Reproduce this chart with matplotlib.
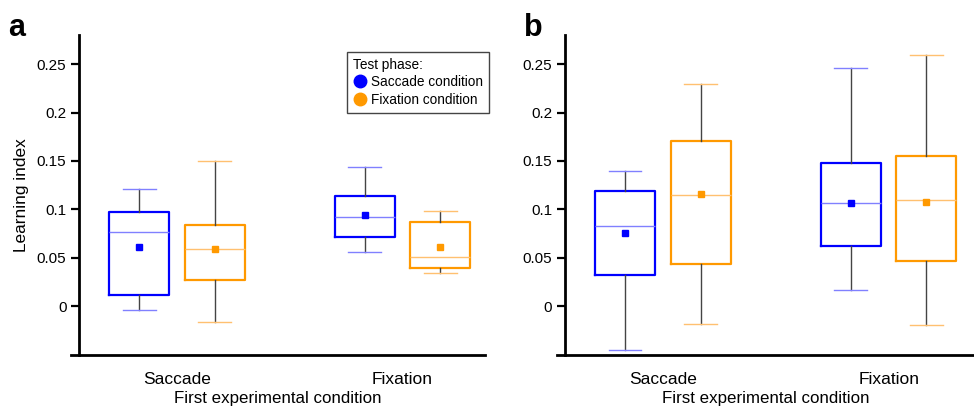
import numpy as np
import matplotlib.pyplot as plt
from matplotlib.ticker import FormatStrFormatter
from matplotlib.lines import Line2D

plt.rcParams['font.family'] = ['Liberation Sans', 'DejaVu Sans']

categories = ['Saccade', 'Fixation']
series = ['Saccade condition', 'Fixation condition']

# box order: Saccade/blue, Saccade/orange, Fixation/blue, Fixation/orange
a_whislo = [-0.004, -0.0165, 0.0563, 0.034]
a_q1 = [0.0117, 0.0268, 0.0711, 0.0395]
a_med = [0.077, 0.0588, 0.0924, 0.0505]
a_q3 = [0.0975, 0.0838, 0.114, 0.0873]
a_whishi = [0.1216, 0.150, 0.1443, 0.0986]
a_mean = [0.0608, 0.059, 0.0945, 0.0608]

b_whislo = [-0.0447, -0.0179, 0.0165, -0.019]
b_q1 = [0.0323, 0.0436, 0.0622, 0.047]
b_med = [0.0831, 0.1147, 0.1065, 0.1093]
b_q3 = [0.1189, 0.1704, 0.148, 0.155]
b_whishi = [0.1398, 0.2299, 0.2464, 0.2598]
b_mean = [0.0756, 0.116, 0.1065, 0.1072]

cols = ['#0000ff', '#ff9900']
light = ['#8080ff', '#ffc070']

fig = plt.figure(figsize=(9.74, 4.08), dpi=100)
axa = fig.add_axes([71/974, 1-355.3/408, (485-71)/974, (355.3-35)/408])
axb = fig.add_axes([556.7/974, 1-355.3/408, (974-556.7)/974, (355.3-35)/408])


def draw(ax, lo, q1, med, q3, hi, mean, xmax):
    g = np.arange(len(categories)) + 1
    off = 0.1675
    for s in range(2):
        idx = [2*i + s for i in range(len(categories))]
        stats = []
        for i in idx:
            stats.append(dict(whislo=lo[i], q1=q1[i], med=med[i], q3=q3[i],
                              whishi=hi[i], mean=mean[i], fliers=[]))
        pos = g + (off if s else -off)
        ax.bxp(stats, positions=pos, widths=0.266, capwidths=0.146,
               showmeans=True, manage_ticks=False,
               boxprops=dict(color=cols[s], linewidth=1.6),
               medianprops=dict(color=light[s], linewidth=1.0),
               whiskerprops=dict(color='#444444', linewidth=1.0),
               capprops=dict(color=light[s], linewidth=1.0),
               meanprops=dict(marker='s', markerfacecolor=cols[s],
                              markeredgecolor=cols[s], markersize=5))
    ax.set_xlim(0.53, xmax)
    ax.set_ylim(-0.0505, 0.28)
    ax.set_xticks(g)
    ax.set_xticklabels(categories, fontsize=12.5)
    ax.tick_params(axis='x', length=0, pad=12)
    ax.set_yticks([0, 0.05, 0.1, 0.15, 0.2, 0.25])
    ax.yaxis.set_major_formatter(FormatStrFormatter('%g'))
    ax.tick_params(axis='y', length=6, width=1.6, labelsize=11, pad=3)
    for sp in ['top', 'right']:
        ax.spines[sp].set_visible(False)
    ax.spines['left'].set_position(('axes', 0.0193))
    ax.spines['left'].set_linewidth(2)
    ax.spines['bottom'].set_linewidth(2)
    ax.set_xlabel('First experimental condition', fontsize=12.2, labelpad=3)
    ax.patch.set_alpha(0)


draw(axa, a_whislo, a_q1, a_med, a_q3, a_whishi, a_mean, 2.366)
draw(axb, b_whislo, b_q1, b_med, b_q3, b_whishi, b_mean, 2.378)
axa.set_ylabel('Learning index', fontsize=12.4, labelpad=6)

fig.text(8/974, 1-36/408, 'a', fontsize=22, fontweight='bold')
fig.text(524/974, 1-36/408, 'b', fontsize=22, fontweight='bold')

handles = [Line2D([], [], marker='o', linestyle='none', color=c, markersize=9)
           for c in cols]
leg = axa.legend(handles, series, title='Test phase:', loc='upper right',
                 bbox_to_anchor=(489.3/974, 1-51.7/408),
                 bbox_transform=fig.transFigure, borderaxespad=0,
                 fontsize=9.8, title_fontsize=9.8, alignment='left',
                 fancybox=False, framealpha=1, edgecolor='#444444',
                 handletextpad=0.3, handlelength=1.0, borderpad=0.45,
                 labelspacing=0.25)
leg.get_frame().set_linewidth(1.0)

fig.savefig('out.png', dpi=100)
